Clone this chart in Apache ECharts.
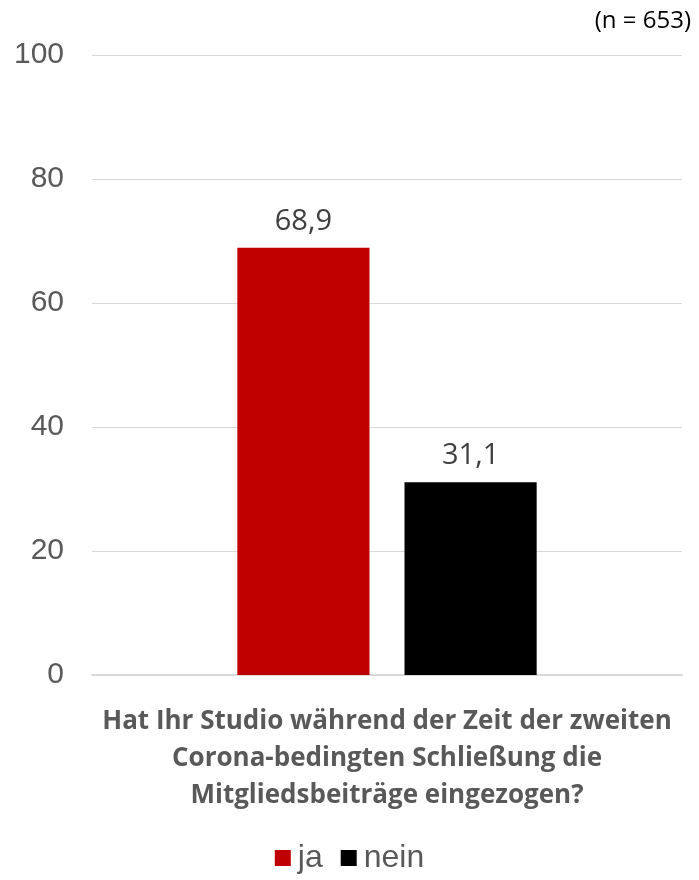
<!DOCTYPE html>
<html>
<head>
<meta charset="utf-8">
<script src="https://cdn.jsdelivr.net/npm/echarts@6/dist/echarts.min.js"></script>
<style>
  html, body { margin: 0; padding: 0; background: #fff; }
  #chart { width: 699px; height: 880px; }
</style>
</head>
<body>
<div id="chart"></div>
<script>
// Survey question, answer series and shares (percent)
const categories = ['Hat Ihr Studio während der Zeit der zweiten\nCorona-bedingten Schließung die\nMitgliedsbeiträge eingezogen?'];
const seriesNames = ['ja', 'nein'];
const jaValues = [68.9];
const neinValues = [31.1];
const yTicks = [0, 20, 40, 60, 80, 100];
const sampleNote = '(n = 653)';

const colors = ['#C00000', '#000000'];
const fmt = v => v.toFixed(1).replace('.', ',');

const chart = echarts.init(document.getElementById('chart'), null, { renderer: 'canvas' });

const labelStyle = {
  show: true,
  position: 'top',
  distance: 12,
  fontFamily: 'Open Sans',
  fontSize: 29,
  color: '#404040',
  formatter: p => fmt(p.value)
};

chart.setOption({
  animation: false,
  color: colors,
  graphic: [{
    type: 'text',
    right: 8,
    top: 9,
    style: { text: sampleNote, font: '24px "Open Sans"', fill: '#000' }
  }],
  grid: { left: 92, right: 17, top: 55, bottom: 205 },
  legend: {
    bottom: 1,
    left: 'center',
    itemWidth: 16,
    itemHeight: 16,
    itemGap: 18,
    icon: 'rect',
    textStyle: { fontFamily: 'Liberation Sans', fontSize: 32, color: '#595959', padding: [0, 0, 0, 2] },
    data: seriesNames
  },
  xAxis: {
    type: 'category',
    data: categories,
    axisLine: { lineStyle: { color: '#d9d9d9', width: 2 } },
    axisTick: { show: false },
    axisLabel: {
      margin: 28,
      fontFamily: 'Open Sans',
      fontWeight: 'bold',
      fontSize: 26,
      lineHeight: 37,
      color: '#595959',
      align: 'center'
    }
  },
  yAxis: {
    type: 'value',
    min: yTicks[0],
    max: yTicks[yTicks.length - 1],
    interval: 20,
    axisLine: { show: false },
    axisTick: { show: false },
    splitLine: { lineStyle: { color: '#d9d9d9', width: 1 } },
    axisLabel: {
      margin: 28,
      fontFamily: 'Liberation Sans',
      fontSize: 30,
      color: '#595959'
    }
  },
  series: [
    { name: seriesNames[0], type: 'bar', data: jaValues, barWidth: '22.4%', barGap: '26.5%', label: labelStyle },
    { name: seriesNames[1], type: 'bar', data: neinValues, barWidth: '22.4%', barGap: '26.5%', label: labelStyle }
  ]
});
</script>
</body>
</html>
